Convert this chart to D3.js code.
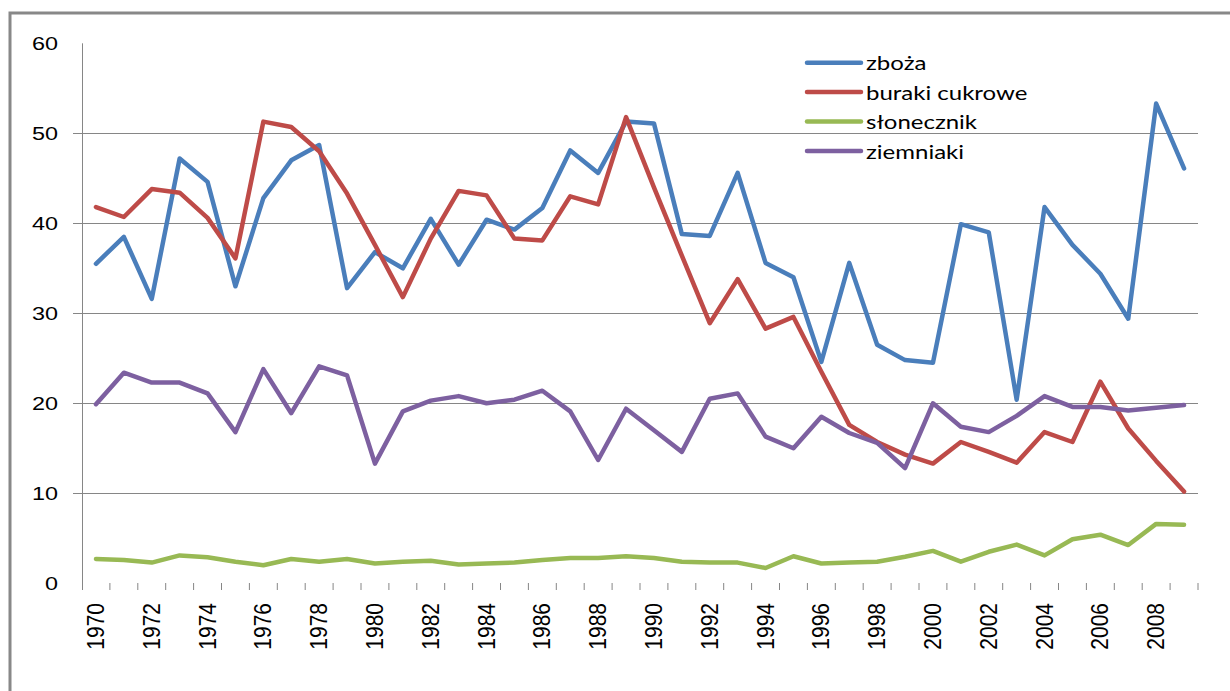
<!DOCTYPE html>
<html>
<head>
<meta charset="utf-8">
<script src="https://cdn.jsdelivr.net/npm/d3@7"></script>
<style>
  body { margin: 0; background: #fff; }
  svg { display: block; }
</style>
</head>
<body>
<div id="chart"></div>
<script>
const years = [
  1970, 1971, 1972, 1973, 1974, 1975, 1976, 1977, 1978, 1979,
  1980, 1981, 1982, 1983, 1984, 1985, 1986, 1987, 1988, 1989,
  1990, 1991, 1992, 1993, 1994, 1995, 1996, 1997, 1998, 1999,
  2000, 2001, 2002, 2003, 2004, 2005, 2006, 2007, 2008, 2009,
];
const zboza = [
  35.5, 38.5, 31.6, 47.2, 44.6, 33.0, 42.8, 47.0, 48.7, 32.8,
  36.8, 35.0, 40.5, 35.4, 40.4, 39.3, 41.7, 48.1, 45.6, 51.3,
  51.1, 38.8, 38.6, 45.6, 35.6, 34.0, 24.6, 35.6, 26.5, 24.8,
  24.5, 39.9, 39.0, 20.4, 41.8, 37.6, 34.4, 29.4, 53.3, 46.1,
];
const buraki = [
  41.8, 40.7, 43.8, 43.4, 40.6, 36.1, 51.3, 50.7, 48.0, 43.3,
  37.6, 31.8, 38.3, 43.6, 43.1, 38.3, 38.1, 43.0, 42.1, 51.8,
  44.0, 36.4, 28.9, 33.8, 28.3, 29.6, 23.5, 17.6, 15.7, 14.3,
  13.3, 15.7, 14.6, 13.4, 16.8, 15.7, 22.4, 17.2, 13.6, 10.2,
];
const slonecznik = [
  2.7, 2.6, 2.3, 3.1, 2.9, 2.4, 2.0, 2.7, 2.4, 2.7,
  2.2, 2.4, 2.5, 2.1, 2.2, 2.3, 2.6, 2.8, 2.8, 3.0,
  2.8, 2.4, 2.3, 2.3, 1.7, 3.0, 2.2, 2.3, 2.4, 2.95,
  3.6, 2.4, 3.5, 4.3, 3.1, 4.9, 5.4, 4.25, 6.6, 6.5,
];
const ziemniaki = [
  19.9, 23.4, 22.3, 22.3, 21.1, 16.8, 23.8, 18.9, 24.1, 23.1,
  13.3, 19.1, 20.3, 20.8, 20.0, 20.4, 21.4, 19.1, 13.7, 19.4,
  17.0, 14.6, 20.5, 21.1, 16.3, 15.0, 18.5, 16.7, 15.6, 12.8,
  20.0, 17.4, 16.8, 18.6, 20.8, 19.6, 19.6, 19.2, 19.5, 19.8,
];
const seriesNames = ["zboża", "buraki cukrowe", "słonecznik", "ziemniaki"];
const yTicks = [0, 10, 20, 30, 40, 50, 60];
const gridTicks = [10, 20, 30, 40, 50];
const xLabelYears = years.filter((y) => y % 2 === 0);

const width = 1230,
  height = 691;
const colors = ["#4A7EBB", "#BE4B48", "#98B954", "#7D60A0"];
const series = [zboza, buraki, slonecznik, ziemniaki].map((values, i) => ({
  name: seriesNames[i],
  color: colors[i],
  values: values.map((v, j) => ({ year: years[j], value: v })),
}));

const svg = d3
  .select("#chart")
  .append("svg")
  .attr("width", width)
  .attr("height", height);

// outer chart frame (only left and top edges visible in the picture)
svg
  .append("path")
  .attr("d", "M10,691 L10,13 L1230,13")
  .attr("fill", "none")
  .attr("stroke", "#888")
  .attr("stroke-width", 3);

const x = d3.scaleBand().domain(years).range([82, 1198]).padding(0);
const y = d3.scaleLinear().domain([0, 60]).range([583.3, 43.3]);

// gridlines
svg
  .append("g")
  .selectAll("line")
  .data(gridTicks)
  .join("line")
  .attr("x1", 73)
  .attr("x2", 1198)
  .attr("y1", (d) => Math.round(y(d)) + 0.5)
  .attr("y2", (d) => Math.round(y(d)) + 0.5)
  .attr("stroke", "#868686")
  .attr("stroke-width", 1);

// y axis line
svg
  .append("line")
  .attr("x1", 82.5)
  .attr("x2", 82.5)
  .attr("y1", y(60))
  .attr("y2", 590)
  .attr("stroke", "#868686");

// y labels
svg
  .append("g")
  .selectAll("text")
  .data(yTicks)
  .join("text")
  .attr("transform", (d) => `translate(58,${y(d)}) scale(1.3,1)`)
  .attr("text-anchor", "end")
  .attr("dominant-baseline", "central")
  .style("font-family", "Liberation Sans, Arial, sans-serif")
  .style("font-size", "18px")
  .attr("fill", "#000")
  .text((d) => d);

// x tick marks at band edges
const edges = years.map((yr) => x(yr)).concat([x(years[years.length - 1]) + x.bandwidth()]);
svg
  .append("g")
  .selectAll("line")
  .data(edges.slice(1))
  .join("line")
  .attr("x1", (d) => d)
  .attr("x2", (d) => d)
  .attr("y1", 583)
  .attr("y2", 590)
  .attr("stroke", "#868686");

// x labels (rotated)
svg
  .append("g")
  .selectAll("text")
  .data(xLabelYears)
  .join("text")
  .attr(
    "transform",
    (d) => `translate(${x(d) + x.bandwidth() / 2},603) scale(1.15,1) rotate(-90)`
  )
  .attr("text-anchor", "end")
  .attr("dominant-baseline", "central")
  .style("font-family", "Liberation Sans, Arial, sans-serif")
  .style("font-size", "21px")
  .attr("fill", "#000")
  .text((d) => d);

// series lines
const line = d3
  .line()
  .x((d) => x(d.year) + x.bandwidth() / 2)
  .y((d) => y(d.value));

svg
  .append("g")
  .selectAll("path")
  .data(series)
  .join("path")
  .attr("fill", "none")
  .attr("stroke", (d) => d.color)
  .attr("stroke-width", 4.5)
  .attr("stroke-linejoin", "round")
  .attr("stroke-linecap", "round")
  .attr("d", (d) => line(d.values));

// legend
const legend = svg
  .append("g")
  .selectAll("g")
  .data(series)
  .join("g")
  .attr("transform", (d, i) => `translate(807,${62.7 + i * 29.4})`);
legend
  .append("line")
  .attr("x1", 0)
  .attr("x2", 54)
  .attr("stroke", (d) => d.color)
  .attr("stroke-width", 4.5)
  .attr("stroke-linecap", "round");
legend
  .append("text")
  .attr("transform", "translate(59,0) scale(1.2,1)")
  .attr("dominant-baseline", "central")
  .style("font-family", "Lato, sans-serif")
  .style("font-size", "20px")
  .attr("fill", "#000")
  .text((d) => d.name);
</script>
</body>
</html>
